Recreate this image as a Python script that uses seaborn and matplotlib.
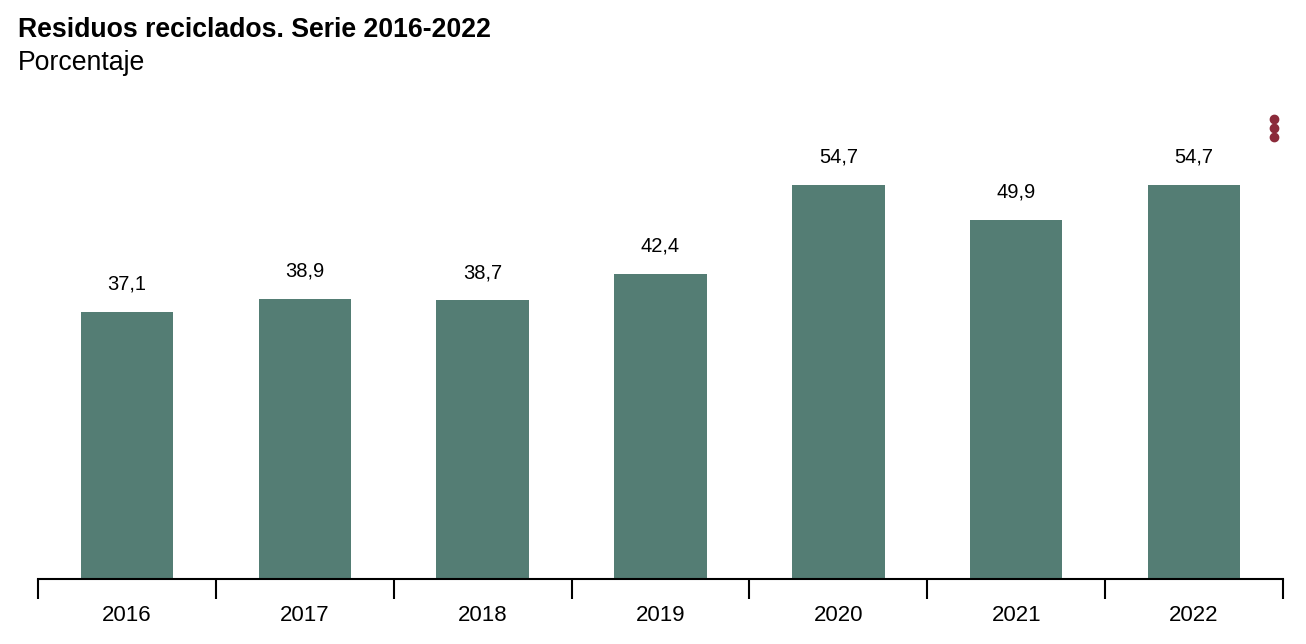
import matplotlib
matplotlib.use("Agg")
import matplotlib.pyplot as plt
import seaborn as sns
import pandas as pd
import numpy as np
from matplotlib.lines import Line2D

years = ["2016", "2017", "2018", "2019", "2020", "2021", "2022"]
values = [37.1, 38.9, 38.7, 42.4, 54.7, 49.9, 54.7]
title = "Residuos reciclados. Serie 2016-2022"
subtitle = "Porcentaje"

sns.set_theme(style="white")
plt.rcParams["font.family"] = ["Liberation Sans", "DejaVu Sans"]

W, H = 1306, 644
fig = plt.figure(figsize=(W / 100, H / 100), dpi=100)
ax = fig.add_axes([38 / W, 1 - 579 / H, (1283 - 38) / W, (579 - 110) / H])

df = pd.DataFrame({"year": years, "value": values})
sns.barplot(data=df, x="year", y="value", color="#547d74", saturation=1,
            width=0.52, ax=ax, edgecolor="none")

ax.set_xlim(-0.5, 6.5)
ax.set_ylim(0, (579 - 110) / 7.2)
for s in ["top", "right", "left"]:
    ax.spines[s].set_visible(False)
ax.spines["bottom"].set_color("black")
ax.spines["bottom"].set_linewidth(1.5)
ax.set_yticks([])
ax.set_xlabel("")
ax.set_ylabel("")
ax.set_xticks(range(len(years)))
ax.set_xticklabels(years, fontsize=16, color="black")
ax.tick_params(axis="x", which="major", length=0, pad=19)
ax.set_xticks(np.arange(-0.5, len(years), 1.0), minor=True)
ax.tick_params(axis="x", which="minor", length=14.5, width=1.5, color="black",
               direction="out", bottom=True)

for i, v in enumerate(values):
    ax.annotate(f"{v:.1f}".replace(".", ","), (i, v), xytext=(0, 20),
                textcoords="offset points", ha="center", va="center",
                fontsize=14.5, color="black")

fig.text(18 / W, 1 - 37 / H, title, fontsize=19.2, fontweight="bold",
         ha="left", va="baseline", color="black")
fig.text(18 / W, 1 - 70 / H, subtitle, fontsize=19.2,
         ha="left", va="baseline", color="black")

for yy in [119, 128, 137]:
    fig.add_artist(Line2D([1274 / W], [1 - yy / H], marker="o", markersize=6,
                          color="#8b2a3a", linestyle="none",
                          transform=fig.transFigure))

fig.savefig("out.png", dpi=100)
